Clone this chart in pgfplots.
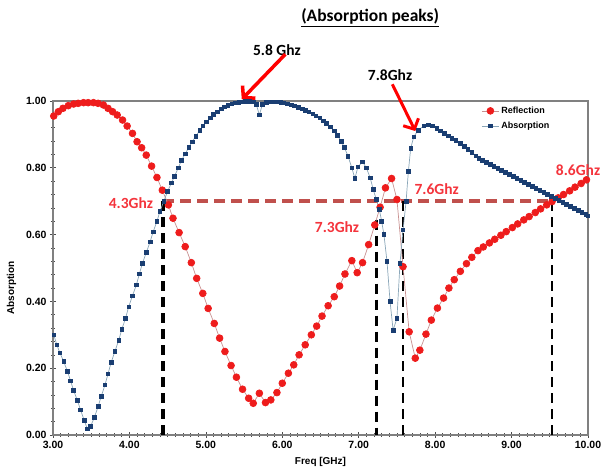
\documentclass[border=0pt]{standalone}
\usepackage{pgfplots}
\pgfplotsset{compat=1.18}
\usepackage{fontspec}
\setmainfont{Liberation Sans}
\newfontfamily\cali{Carlito}
\usetikzlibrary{arrows.meta}
\definecolor{refl}{HTML}{EE1C1C}
\definecolor{reflline}{HTML}{C89090}
\definecolor{absb}{HTML}{1A3E72}
\definecolor{absline}{HTML}{8AA6B8}
\definecolor{dashbrown}{HTML}{C0504D}
\definecolor{annred}{HTML}{F4343C}
\begin{document}
\begin{tikzpicture}[x=1pt,y=1pt]
\useasboundingbox (0,0) rectangle (608,473);
\begin{axis}[
  at={(53pt,38pt)}, anchor=south west,
  scale only axis, width=535pt, height=334pt,
  xmin=3, xmax=10, ymin=0, ymax=1,
  clip=false,
  axis line style={draw=gray, line width=1.1pt},
  xtick={3,4,...,10}, ytick={0,0.2,0.4,0.6,0.8,1.0},
  minor x tick num=9, minor y tick num=4,
  tick pos=left, tick align=center,
  major tick length=6pt, minor tick length=3.5pt,
  every tick/.style={gray!60!black, line width=0.6pt},
  /pgf/number format/assume math mode=true,
  /pgf/number format/.cd, fixed, fixed zerofill, precision=2, /pgfplots/.cd,
  tick label style={font=\bfseries\fontsize{10.5}{12}\selectfont},
  xlabel={Freq [GHz]}, ylabel={Absorption},
  xlabel style={font=\bfseries\fontsize{10}{11}\selectfont, at={(axis description cs:0.5,-0.055)}, anchor=north},
  ylabel style={font=\bfseries\fontsize{10}{11}\selectfont, at={(axis description cs:-0.062,0.44)}, anchor=south},
  legend style={draw=none, fill=none, at={(axis description cs:0.795,0.995)}, anchor=north west,
     font=\bfseries\fontsize{9}{10}\selectfont, row sep=3pt},
  legend cell align=left,
]
% dashed guides
\draw[dashbrown, line width=4pt, dash pattern=on 11pt off 6pt] (axis cs:4.44,0.70) -- (axis cs:9.53,0.70);
\draw[black, line width=3.5pt, dash pattern=on 10pt off 6pt] (axis cs:4.44,0.70) -- (axis cs:4.44,0);
\draw[black, line width=3.5pt, dash pattern=on 10pt off 6pt] (axis cs:7.23,0.645) -- (axis cs:7.23,0);
\draw[black, line width=2pt, dash pattern=on 10pt off 6pt] (axis cs:7.58,0.70) -- (axis cs:7.58,0);
\draw[black, line width=2pt, dash pattern=on 10pt off 6pt] (axis cs:9.53,0.70) -- (axis cs:9.53,0);

\addplot[color=reflline, line width=0.7pt, mark=*, mark size=3.4pt, mark options={draw=refl, fill=refl}] coordinates {
(3.01,0.955)(3.07,0.968)(3.13,0.978)(3.20,0.986)(3.27,0.991)(3.33,0.993)(3.40,0.995)(3.46,0.995)(3.53,0.995)(3.59,0.993)(3.66,0.988)(3.72,0.978)(3.78,0.968)(3.84,0.958)(3.91,0.943)(3.97,0.925)(4.04,0.903)(4.10,0.878)(4.16,0.86)(4.22,0.838)(4.29,0.805)(4.36,0.771)(4.43,0.733)(4.51,0.689)(4.57,0.649)(4.65,0.606)(4.73,0.564)(4.81,0.516)(4.88,0.469)(4.96,0.424)(5.03,0.379)(5.11,0.334)(5.18,0.290)(5.25,0.250)(5.33,0.208)(5.40,0.173)(5.48,0.137)(5.56,0.110)(5.62,0.095)(5.70,0.125)(5.78,0.097)(5.85,0.105)(5.93,0.127)(6.00,0.155)(6.08,0.185)(6.15,0.21)(6.22,0.24)(6.30,0.27)(6.38,0.30)(6.45,0.326)(6.52,0.356)(6.60,0.387)(6.68,0.414)(6.75,0.446)(6.82,0.482)(6.91,0.522)(6.98,0.486)(7.05,0.516)(7.13,0.57)(7.21,0.629)(7.28,0.682)(7.35,0.74)(7.43,0.768)(7.50,0.705)(7.58,0.504)(7.66,0.309)(7.74,0.23)(7.80,0.254)(7.88,0.302)(7.95,0.344)(8.03,0.38)(8.11,0.41)(8.18,0.44)(8.25,0.465)(8.33,0.49)(8.41,0.513)(8.48,0.532)(8.56,0.552)(8.63,0.563)(8.71,0.575)(8.78,0.586)(8.86,0.598)(8.93,0.609)(9.01,0.621)(9.08,0.632)(9.16,0.644)(9.23,0.654)(9.31,0.666)(9.38,0.677)(9.46,0.689)(9.53,0.699)(9.61,0.71)(9.68,0.72)(9.76,0.731)(9.83,0.742)(9.91,0.753)(9.98,0.764)
};
\addlegendentry{Reflection}
\addplot[color=absline, line width=0.7pt, mark=square*, mark size=1.8pt, mark options={draw=absb, fill=absb}] coordinates {
(3.01,0.30)(3.05,0.27)(3.09,0.246)(3.14,0.22)(3.19,0.19)(3.23,0.162)(3.27,0.133)(3.32,0.103)(3.36,0.075)(3.41,0.043)(3.45,0.018)(3.49,0.025)(3.54,0.052)(3.59,0.085)(3.63,0.115)(3.68,0.15)(3.72,0.183)(3.76,0.217)(3.81,0.25)(3.86,0.284)(3.90,0.316)(3.95,0.35)(3.99,0.384)(4.04,0.417)(4.09,0.449)(4.13,0.482)(4.17,0.514)(4.22,0.546)(4.27,0.578)(4.31,0.608)(4.36,0.64)(4.40,0.67)(4.45,0.70)(4.50,0.73)(4.55,0.755)(4.59,0.775)(4.64,0.80)(4.68,0.822)(4.73,0.842)(4.78,0.862)(4.82,0.878)(4.87,0.895)(4.92,0.912)(4.96,0.925)(5.01,0.938)(5.06,0.95)(5.10,0.96)(5.15,0.968)(5.20,0.976)(5.24,0.982)(5.29,0.987)(5.34,0.991)(5.38,0.994)(5.43,0.996)(5.48,0.998)(5.52,0.999)(5.57,0.999)(5.62,0.998)(5.66,0.99)(5.70,0.958)(5.74,0.99)(5.79,0.996)(5.84,0.997)(5.88,0.997)(5.93,0.997)(5.98,0.996)(6.02,0.994)(6.07,0.991)(6.12,0.988)(6.16,0.985)(6.21,0.981)(6.26,0.976)(6.30,0.972)(6.35,0.967)(6.40,0.962)(6.44,0.956)(6.49,0.949)(6.54,0.941)(6.58,0.933)(6.63,0.923)(6.68,0.911)(6.72,0.897)(6.77,0.88)(6.81,0.862)(6.86,0.835)(6.91,0.80)(6.95,0.768)(6.99,0.803)(7.05,0.818)(7.10,0.80)(7.15,0.77)(7.19,0.735)(7.23,0.705)(7.27,0.675)(7.30,0.64)(7.33,0.60)(7.37,0.52)(7.41,0.40)(7.45,0.314)(7.50,0.349)(7.54,0.514)(7.58,0.614)(7.62,0.70)(7.65,0.79)(7.68,0.858)(7.72,0.893)(7.78,0.913)(7.85,0.925)(7.91,0.928)(7.96,0.925)(8.02,0.918)(8.07,0.911)(8.12,0.904)(8.17,0.896)(8.22,0.889)(8.27,0.882)(8.33,0.873)(8.38,0.865)(8.43,0.856)(8.48,0.847)(8.53,0.836)(8.57,0.828)(8.62,0.822)(8.67,0.816)(8.72,0.810)(8.77,0.804)(8.82,0.798)(8.87,0.792)(8.92,0.786)(8.97,0.780)(9.02,0.774)(9.07,0.768)(9.12,0.762)(9.17,0.756)(9.22,0.750)(9.27,0.744)(9.32,0.738)(9.37,0.732)(9.42,0.726)(9.47,0.720)(9.52,0.714)(9.57,0.708)(9.62,0.702)(9.67,0.696)(9.72,0.690)(9.77,0.684)(9.82,0.678)(9.87,0.672)(9.92,0.666)(9.97,0.660)(10.0,0.656)
};
\addlegendentry{Absorption}

% annotations
\node[font=\cali\bfseries\fontsize{17.5}{20}\selectfont] at (axis cs:7.15,1.249) {\underline{(Absorption peaks)}};
\node[font=\cali\bfseries\fontsize{15.5}{18}\selectfont] at (axis cs:5.93,1.153) {5.8 Ghz};
\node[font=\cali\bfseries\fontsize{15.5}{18}\selectfont] at (axis cs:7.41,1.078) {7.8Ghz};
\draw[red, line width=3.5pt, -{Straight Barb[length=8pt,width=18pt]}] (axis cs:6.04,1.14) -- (axis cs:5.47,1.005);
\draw[red, line width=3pt, -{Straight Barb[length=8pt,width=17pt]}] (axis cs:7.44,1.05) -- (axis cs:7.74,0.91);
\node[font=\cali\bfseries\fontsize{15.5}{18}\selectfont, text=annred] at (axis cs:4.02,0.695) {4.3Ghz};
\node[font=\cali\bfseries\fontsize{15.5}{18}\selectfont, text=annred] at (axis cs:6.716,0.623) {7.3Ghz};
\node[font=\cali\bfseries\fontsize{15.5}{18}\selectfont, text=annred] at (axis cs:8.02,0.737) {7.6Ghz};
\node[font=\cali\bfseries\fontsize{15.5}{18}\selectfont, text=annred] at (axis cs:9.87,0.793) {8.6Ghz};
\end{axis}
\end{tikzpicture}
\end{document}
